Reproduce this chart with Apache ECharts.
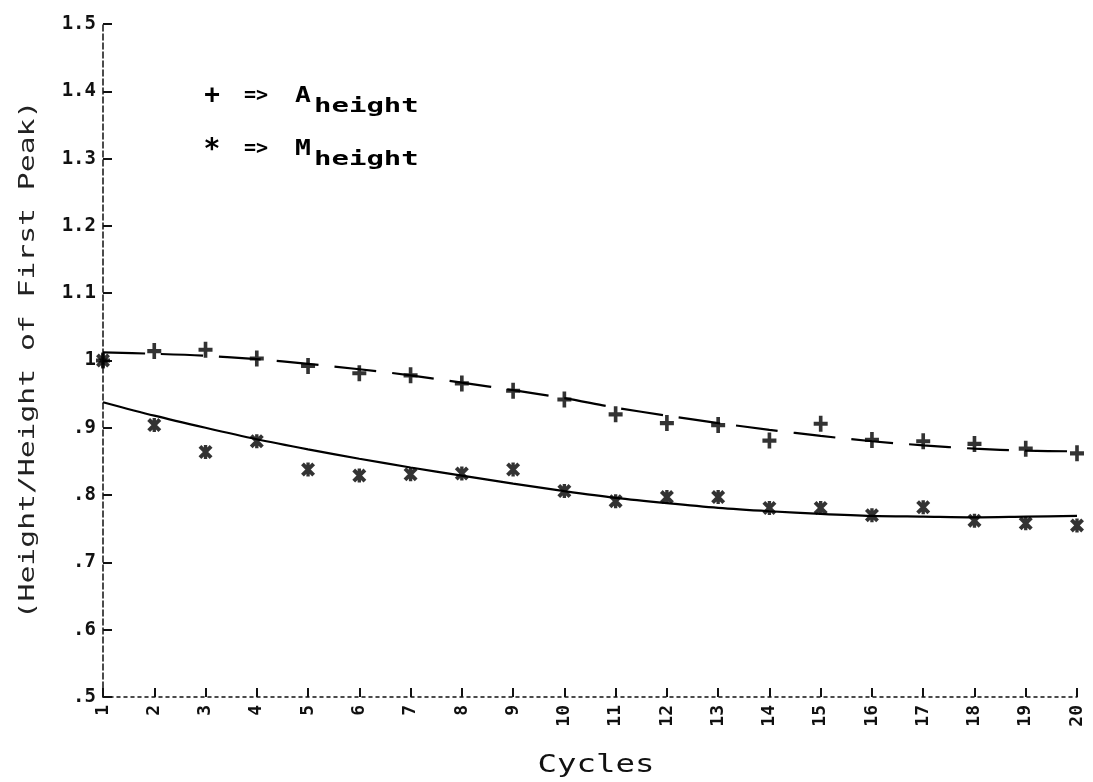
<!DOCTYPE html>
<html>
<head>
<meta charset="utf-8">
<script src="https://cdn.jsdelivr.net/npm/echarts@6/dist/echarts.min.js"></script>
<style>
html,body{margin:0;padding:0;background:#fff;}
#c{width:1093px;height:782px;}
</style>
</head>
<body>
<div id="c"></div>
<script>
// ---- data ----
const cycles = [1,2,3,4,5,6,7,8,9,10,11,12,13,14,15,16,17,18,19,20];
const aHeight = [1.000,1.014,1.016,1.003,0.992,0.981,0.978,0.966,0.955,0.942,0.920,0.907,0.904,0.881,0.906,0.882,0.880,0.876,0.869,0.862];
const mHeight = [1.000,0.904,0.864,0.880,0.838,0.829,0.831,0.832,0.838,0.806,0.791,0.797,0.797,0.781,0.781,0.770,0.782,0.762,0.758,0.755];
const aFit = [1.012,1.010,1.007,1.002,0.995,0.987,0.978,0.967,0.956,0.944,0.930,0.918,0.907,0.897,0.888,0.880,0.874,0.869,0.866,0.865];
const mFit = [0.938,0.918,0.900,0.883,0.868,0.854,0.841,0.829,0.817,0.806,0.796,0.788,0.781,0.776,0.772,0.769,0.768,0.767,0.768,0.769];
const yTickLabels = ['.5','.6','.7','.8','.9','1','1.1','1.2','1.3','1.4','1.5'];
const xTitle = 'Cycles';
const yTitle = '(Height/Height of First Peak)';

const pair = (xs, ys) => xs.map((x, i) => [x, ys[i]]);
const PLUS = 'path://M3.7,0H6.3V10H3.7Z M0,3.7H10V6.3H0Z';
const STAR = 'path://M3.8,0H6.2V10H3.8Z M2,0L10,8L8,10L0,2Z M8,0L10,2L2,10L0,8Z';
const FONT = 'DejaVu Sans Mono';

const chart = echarts.init(document.getElementById('c'), null, {renderer: 'canvas'});
chart.setOption({
  backgroundColor: '#ffffff',
  animation: false,
  grid: {left: 103, right: 16, top: 24, bottom: 85, outerBoundsMode: 'none'},
  xAxis: {
    type: 'value', min: 1, max: 20, interval: 1,
    axisLine: {lineStyle: {color: '#111', width: 1.5, type: [3, 4]}},
    axisTick: {inside: true, length: 9, lineStyle: {color: '#111', width: 2}},
    axisLabel: {rotate: 90, margin: 8, color: '#111', fontFamily: FONT, fontWeight: 'bold', fontSize: 18,
      formatter: v => String(cycles[Math.round(v) - 1] ?? '')},
    splitLine: {show: false}
  },
  yAxis: {
    type: 'value', min: 0.5, max: 1.5, interval: 0.1,
    axisLine: {show: true, lineStyle: {color: '#111', width: 1.5, type: [6, 3]}},
    axisTick: {show: true, inside: true, length: 9, lineStyle: {color: '#111', width: 2}},
    axisLabel: {margin: 7, color: '#111', fontFamily: FONT, fontWeight: 'bold', fontSize: 19,
      formatter: v => yTickLabels[Math.round((v - 0.5) * 10)] ?? ''},
    splitLine: {show: false}
  },
  series: [
    {type: 'line', data: pair(cycles, aFit), smooth: 0.3, showSymbol: false, silent: true,
      lineStyle: {color: '#000', width: 2.2, type: [42, 16]}, z: 2},
    {type: 'line', data: pair(cycles, mFit), smooth: 0.3, showSymbol: false, silent: true,
      lineStyle: {color: '#000', width: 2.2}, z: 2},
    {type: 'scatter', data: pair(cycles, aHeight), symbol: PLUS, symbolSize: [14, 16],
      itemStyle: {color: '#000'}, z: 3},
    {type: 'scatter', data: pair(cycles, mHeight), symbol: STAR, symbolSize: [14, 14],
      itemStyle: {color: '#000'}, z: 3}
  ],
  graphic: [
    {type: 'text', x: 596, y: 766, scaleX: 1.35, style: {text: xTitle, font: '24px "DejaVu Sans Mono"', fill: '#111', align: 'center', verticalAlign: 'middle'}},
    {type: 'text', x: 28, y: 360, rotation: Math.PI / 2, scaleX: 1.35, style: {text: yTitle, font: '22px "DejaVu Sans Mono"', fill: '#222', align: 'center', verticalAlign: 'middle'}},
    {type: 'text', x: 212, y: 96, style: {text: '+', font: 'bold 26px "DejaVu Sans Mono"', fill: '#000', align: 'center', verticalAlign: 'middle'}},
    {type: 'text', x: 256, y: 96, style: {text: '=>', font: 'bold 20px "DejaVu Sans Mono"', fill: '#000', align: 'center', verticalAlign: 'middle'}},
    {type: 'text', x: 303, y: 96, scaleX: 1.2, style: {text: 'A', font: 'bold 22px "DejaVu Sans Mono"', fill: '#000', align: 'center', verticalAlign: 'middle'}},
    {type: 'text', x: 314, y: 107, scaleX: 1.45, style: {text: 'height', font: 'bold 20px "DejaVu Sans Mono"', fill: '#000', align: 'left', verticalAlign: 'middle'}},
    {type: 'text', x: 212, y: 151, style: {text: '*', font: 'bold 28px "DejaVu Sans Mono"', fill: '#000', align: 'center', verticalAlign: 'middle'}},
    {type: 'text', x: 256, y: 149, style: {text: '=>', font: 'bold 20px "DejaVu Sans Mono"', fill: '#000', align: 'center', verticalAlign: 'middle'}},
    {type: 'text', x: 303, y: 149, scaleX: 1.2, style: {text: 'M', font: 'bold 22px "DejaVu Sans Mono"', fill: '#000', align: 'center', verticalAlign: 'middle'}},
    {type: 'text', x: 314, y: 160, scaleX: 1.45, style: {text: 'height', font: 'bold 20px "DejaVu Sans Mono"', fill: '#000', align: 'left', verticalAlign: 'middle'}}
  ]
});
</script>
</body>
</html>
